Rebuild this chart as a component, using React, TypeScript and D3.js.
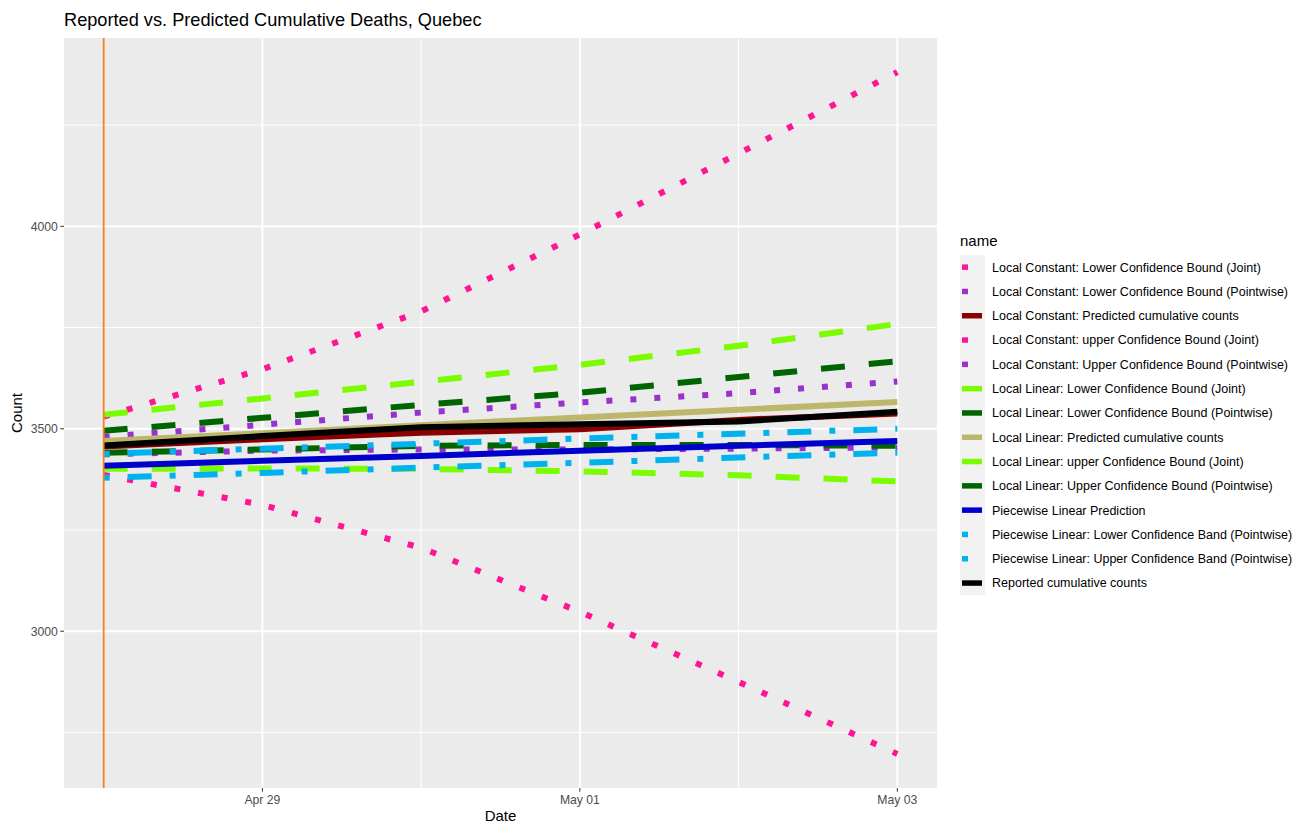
import React from "react";
import * as d3 from "d3";

const dates = ["2020-04-28", "2020-04-29", "2020-04-30", "2020-05-01", "2020-05-02", "2020-05-03"];

const lcLowerJoint = [3386, 3312, 3206, 3048, 2875, 2697];
const lcLowerPointwise = [3437, 3446, 3449, 3449, 3451, 3454];
const lcPredicted = [3456, 3474, 3490, 3499, 3522, 3538];
const lcUpperJoint = [3530, 3647, 3790, 3980, 4180, 4381];
const lcUpperPointwise = [3480, 3510, 3540, 3565, 3588, 3617];
const llLowerJoint = [3401, 3402, 3401, 3395, 3385, 3370];
const llLowerPointwise = [3441, 3449, 3458, 3460, 3460, 3458];
const llPredicted = [3470, 3489, 3509, 3528, 3547, 3566];
const llUpperJoint = [3535, 3575, 3616, 3658, 3705, 3759];
const llUpperPointwise = [3495, 3527, 3559, 3589, 3628, 3667];
const plPrediction = [3409, 3421, 3433, 3446, 3458, 3470];
const plLowerBand = [3379, 3391, 3404, 3416, 3429, 3441];
const plUpperBand = [3438, 3451, 3463, 3476, 3488, 3500];
const reported = [3459, 3482, 3504, 3511, 3518, 3542];

const seriesNames = [
  "Local Constant: Lower Confidence Bound (Joint)",
  "Local Constant: Lower Confidence Bound (Pointwise)",
  "Local Constant: Predicted cumulative counts",
  "Local Constant: upper Confidence Bound (Joint)",
  "Local Constant: Upper Confidence Bound (Pointwise)",
  "Local Linear: Lower Confidence Bound (Joint)",
  "Local Linear: Lower Confidence Bound (Pointwise)",
  "Local Linear: Predicted cumulative counts",
  "Local Linear: upper Confidence Bound (Joint)",
  "Local Linear: Upper Confidence Bound (Pointwise)",
  "Piecewise Linear Prediction",
  "Piecewise Linear: Lower Confidence Band (Pointwise)",
  "Piecewise Linear: Upper Confidence Band (Pointwise)",
  "Reported cumulative counts",
];
const seriesValues = [
  lcLowerJoint, lcLowerPointwise, lcPredicted, lcUpperJoint, lcUpperPointwise,
  llLowerJoint, llLowerPointwise, llPredicted, llUpperJoint, llUpperPointwise,
  plPrediction, plLowerBand, plUpperBand, reported,
];
const seriesColors = [
  "#FF1493", "#9932CC", "#8B0000", "#FF1493", "#9932CC",
  "#7CFC00", "#006400", "#BDB76B", "#7CFC00", "#006400",
  "#0000CD", "#00B2EE", "#00B2EE", "#000000",
];
const seriesDash = [
  "6 18", "6 18", "", "6 18", "6 18",
  "24 24", "24 24", "", "24 24", "24 24",
  "", "6 18 24 18", "6 18 24 18", "",
];

const yTicks = [3000, 3500, 4000];
const yMinor = [2750, 3250, 3750, 4250];
const xTicks = ["2020-04-29", "2020-05-01", "2020-05-03"];
const xMinor = ["2020-04-28", "2020-04-30", "2020-05-02"];
const vlineDate = "2020-04-28";

const W = 1307;
const H = 823;
const panel = { left: 64, right: 937, top: 38, bottom: 788 };
const FONT = "'Liberation Sans', Arial, Helvetica, sans-serif";

const parse = (s: string) => {
  const [y, m, d] = s.split("-").map(Number);
  return new Date(Date.UTC(y, m - 1, d));
};

export default function App() {
  const dateObjs = dates.map(parse);
  const xMin = +dateObjs[0];
  const xMax = +dateObjs[dateObjs.length - 1];
  const xPad = (xMax - xMin) * 0.05;
  const x = d3
    .scaleUtc()
    .domain([new Date(xMin - xPad), new Date(xMax + xPad)])
    .range([panel.left, panel.right]);

  const all = seriesValues.flat();
  const yLo = d3.min(all) as number;
  const yHi = d3.max(all) as number;
  const yPad = (yHi - yLo) * 0.05;
  const y = d3.scaleLinear().domain([yLo - yPad, yHi + yPad]).range([panel.bottom, panel.top]);

  const fmt = d3.utcFormat("%b %d");
  const line = d3
    .line<number>()
    .x((_, i) => x(dateObjs[i]))
    .y((v) => y(v));

  const legendTop = 255;
  const rowH = 24.3;

  return (
    <svg
      width={W}
      height={H}
      style={{ position: "absolute", left: 0, top: 0, background: "#fff" }}
      fontFamily={FONT}
    >
      <rect x={0} y={0} width={W} height={H} fill="#fff" />
      <text x={64} y={26} fontSize={18.2} fill="#000">
        Reported vs. Predicted Cumulative Deaths, Quebec
      </text>
      <rect
        x={panel.left}
        y={panel.top}
        width={panel.right - panel.left}
        height={panel.bottom - panel.top}
        fill="#EBEBEB"
      />
      {yMinor.map((v) => (
        <line key={"ym" + v} x1={panel.left} x2={panel.right} y1={y(v)} y2={y(v)} stroke="#fff" strokeWidth={0.95} />
      ))}
      {xMinor.map((d) => (
        <line key={"xm" + d} x1={x(parse(d))} x2={x(parse(d))} y1={panel.top} y2={panel.bottom} stroke="#fff" strokeWidth={0.95} />
      ))}
      {yTicks.map((v) => (
        <line key={"yM" + v} x1={panel.left} x2={panel.right} y1={y(v)} y2={y(v)} stroke="#fff" strokeWidth={1.9} />
      ))}
      {xTicks.map((d) => (
        <line key={"xM" + d} x1={x(parse(d))} x2={x(parse(d))} y1={panel.top} y2={panel.bottom} stroke="#fff" strokeWidth={1.9} />
      ))}
      <g clipPath="url(#clip)">
        <defs>
          <clipPath id="clip">
            <rect x={panel.left} y={panel.top} width={panel.right - panel.left} height={panel.bottom - panel.top} />
          </clipPath>
        </defs>
        {seriesValues.map((vals, i) => (
          <path
            key={seriesNames[i]}
            d={line(vals) || ""}
            fill="none"
            stroke={seriesColors[i]}
            strokeWidth={6}
            strokeDasharray={seriesDash[i] || undefined}
            strokeLinecap="butt"
            strokeLinejoin="round"
          />
        ))}
        <line
          x1={x(parse(vlineDate))}
          x2={x(parse(vlineDate))}
          y1={panel.top}
          y2={panel.bottom}
          stroke="#F5821F"
          strokeWidth={1.8}
        />
      </g>
      {/* y axis */}
      {yTicks.map((v) => (
        <g key={"yt" + v}>
          <line x1={panel.left - 3.7} x2={panel.left} y1={y(v)} y2={y(v)} stroke="#333" strokeWidth={1} />
          <text x={panel.left - 6.2} y={y(v)} dy="0.35em" textAnchor="end" fontSize={12.2} fill="#4D4D4D">
            {v}
          </text>
        </g>
      ))}
      {xTicks.map((d) => (
        <g key={"xt" + d}>
          <line x1={x(parse(d))} x2={x(parse(d))} y1={panel.bottom} y2={panel.bottom + 3.7} stroke="#333" strokeWidth={1} />
          <text x={x(parse(d))} y={panel.bottom + 16} textAnchor="middle" fontSize={12.2} fill="#4D4D4D">
            {fmt(parse(d))}
          </text>
        </g>
      ))}
      <text x={(panel.left + panel.right) / 2} y={821} textAnchor="middle" fontSize={15} fill="#000">
        Date
      </text>
      <text
        transform={`translate(22,${(panel.top + panel.bottom) / 2}) rotate(-90)`}
        textAnchor="middle"
        fontSize={15}
        fill="#000"
      >
        Count
      </text>
      {/* legend */}
      <text x={960} y={246} fontSize={15} fill="#000">
        name
      </text>
      <rect x={960} y={legendTop} width={25} height={rowH * seriesNames.length} fill="#F2F2F2" />
      {seriesNames.map((name, i) => {
        const cy = legendTop + rowH * (i + 0.5);
        return (
          <g key={"lg" + name}>
            <line
              x1={962}
              x2={982}
              y1={cy}
              y2={cy}
              stroke={seriesColors[i]}
              strokeWidth={5.5}
              strokeDasharray={seriesDash[i] || undefined}
              strokeLinecap="butt"
            />
            <text x={992} y={cy} dy="0.35em" fontSize={12.5} fill="#000">
              {name}
            </text>
          </g>
        );
      })}
    </svg>
  );
}
